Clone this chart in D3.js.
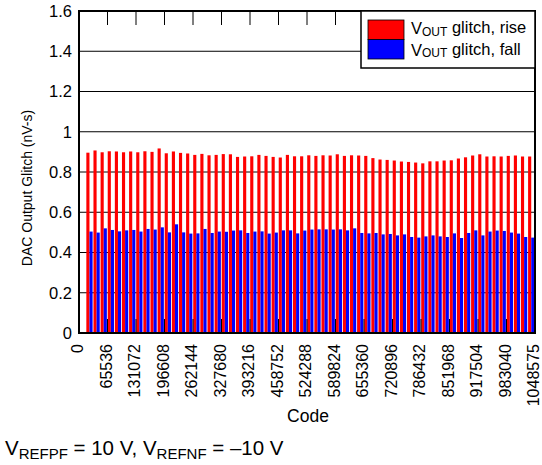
<!DOCTYPE html>
<html>
<head>
<meta charset="utf-8">
<script src="https://cdn.jsdelivr.net/npm/d3@7"></script>
<style>
  body { margin: 0; background: #fff; }
  svg { display: block; }
  text { font-family: "Liberation Sans", Arial, sans-serif; fill: #000; }
</style>
</head>
<body>
<svg id="chart" width="542" height="465"></svg>
<script>
// Glitch impulse measured at every 16384-code step of a 20-bit DAC
const codeStep = 16384;
const codes = d3.range(1, 64).map(k => k * codeStep);

const riseGlitch = [
  0.896, 0.907, 0.898, 0.903, 0.902, 0.898, 0.902, 0.898, 0.903, 0.900,
  0.917, 0.893, 0.902, 0.895, 0.892, 0.885, 0.890, 0.883, 0.885, 0.889,
  0.888, 0.875, 0.877, 0.878, 0.885, 0.880, 0.875, 0.872, 0.885, 0.878,
  0.878, 0.883, 0.880, 0.883, 0.882, 0.888, 0.880, 0.883, 0.882, 0.880,
  0.869, 0.862, 0.860, 0.857, 0.852, 0.850, 0.847, 0.843, 0.853, 0.853,
  0.857, 0.858, 0.867, 0.873, 0.882, 0.888, 0.877, 0.878, 0.877, 0.880,
  0.882, 0.877, 0.877
];

const fallGlitch = [
  0.504, 0.499, 0.520, 0.512, 0.505, 0.510, 0.512, 0.504, 0.517, 0.514,
  0.525, 0.500, 0.540, 0.500, 0.494, 0.495, 0.517, 0.497, 0.504, 0.503,
  0.509, 0.510, 0.497, 0.504, 0.505, 0.494, 0.499, 0.510, 0.510, 0.495,
  0.509, 0.514, 0.515, 0.515, 0.514, 0.515, 0.510, 0.520, 0.497, 0.495,
  0.497, 0.490, 0.492, 0.485, 0.490, 0.477, 0.474, 0.480, 0.485, 0.480,
  0.477, 0.495, 0.472, 0.497, 0.510, 0.485, 0.504, 0.509, 0.507, 0.499,
  0.494, 0.477, 0.474
];

const xTicks = [0, 65536, 131072, 196608, 262144, 327680, 393216, 458752,
  524288, 589824, 655360, 720896, 786432, 851968, 917504, 983040, 1048575];
const yTicks = [0, 0.2, 0.4, 0.6, 0.8, 1, 1.2, 1.4, 1.6];

const series = [
  { name: "rise", label: " glitch, rise", color: "#ff0000", values: riseGlitch },
  { name: "fall", label: " glitch, fall", color: "#0000ff", values: fallGlitch }
];

const svg = d3.select("#chart");
const plot = { left: 79, right: 535, top: 11, bottom: 333 };
const fontFamily = '"Liberation Sans", Arial, sans-serif';

const x = d3.scaleLinear().domain([0, 1048575]).range([plot.left, plot.right]);
const y = d3.scaleLinear().domain([0, 1.6]).range([plot.bottom, plot.top]);

// Horizontal grid lines
svg.append("g")
  .selectAll("line")
  .data(yTicks.filter(v => v > 0 && v < 1.6))
  .join("line")
  .attr("x1", plot.left).attr("x2", plot.right)
  .attr("y1", d => y(d)).attr("y2", d => y(d))
  .attr("stroke", "#000").attr("stroke-width", 1);

// Paired bars: rising step first, falling step right after it
const stepPx = x(codeStep) - x(0);
const barW = stepPx * 0.44;
const barsG = svg.append("g");
series.forEach((s, i) => {
  barsG.append("g")
    .selectAll("rect")
    .data(codes.map((c, j) => ({ code: c, v: s.values[j] })))
    .join("rect")
    .attr("x", d => x(d.code) + stepPx * 0.03 + i * barW)
    .attr("width", barW)
    .attr("y", d => y(d.v))
    .attr("height", d => y(0) - y(d.v))
    .attr("fill", s.color);
});

// Inward ticks on the top and bottom edges
const tickLen = 14;
const inner = xTicks.filter(v => v > 0 && v < 1048575);
svg.append("g").selectAll("line").data(inner).join("line")
  .attr("x1", d => x(d)).attr("x2", d => x(d))
  .attr("y1", plot.bottom).attr("y2", plot.bottom - tickLen)
  .attr("stroke", "#000").attr("stroke-width", 1);
svg.append("g").selectAll("line").data(inner).join("line")
  .attr("x1", d => x(d)).attr("x2", d => x(d))
  .attr("y1", plot.top).attr("y2", plot.top + tickLen)
  .attr("stroke", "#000").attr("stroke-width", 1);

// Frame
svg.append("rect")
  .attr("x", plot.left).attr("y", plot.top)
  .attr("width", plot.right - plot.left).attr("height", plot.bottom - plot.top)
  .attr("fill", "none").attr("stroke", "#000").attr("stroke-width", 2);

// Y axis labels
const yAxis = d3.axisLeft(y).tickValues(yTicks).tickSize(0).tickPadding(7)
  .tickFormat(d => d3.format("~g")(d));
svg.append("g")
  .attr("transform", `translate(${plot.left},0)`)
  .call(yAxis)
  .call(g => g.select(".domain").remove())
  .call(g => g.selectAll("text").style("font-size", "16.5px")
    .style("font-family", fontFamily));

// X axis labels, rotated
const xAxis = d3.axisBottom(x).tickValues(xTicks).tickSize(0).tickPadding(0)
  .tickFormat(d3.format("d"));
svg.append("g")
  .attr("transform", `translate(0,${plot.bottom})`)
  .call(xAxis)
  .call(g => g.select(".domain").remove())
  .call(g => g.selectAll("text")
    .attr("transform", "rotate(-90)")
    .attr("text-anchor", "end")
    .attr("x", -11).attr("y", -2).attr("dy", "0.35em")
    .style("font-size", "16px")
    .style("font-family", fontFamily));

// Axis titles
svg.append("text")
  .attr("transform", "translate(32,188) rotate(-90)")
  .attr("text-anchor", "middle")
  .style("font-size", "14px")
  .text("DAC Output Glitch (nV-s)");

svg.append("text")
  .attr("x", 308).attr("y", 422)
  .attr("text-anchor", "middle")
  .style("font-size", "17.5px")
  .text("Code");

// Legend
const lg = svg.append("g");
lg.append("rect")
  .attr("x", 361).attr("y", plot.top)
  .attr("width", plot.right - 361).attr("height", 57)
  .attr("fill", "#fff").attr("stroke", "#000").attr("stroke-width", 1.5);
series.forEach((s, i) => {
  lg.append("rect")
    .attr("x", 368).attr("y", 20 + i * 19.5)
    .attr("width", 36).attr("height", 19.5)
    .attr("fill", s.color).attr("stroke", "#000").attr("stroke-width", 0.8);
  const t = lg.append("text")
    .attr("x", 411).attr("y", 34 + i * 21.5)
    .style("font-size", "16.5px");
  t.append("tspan").text("V");
  t.append("tspan").attr("dy", "0.15em").style("font-size", "12px").text("OUT");
  t.append("tspan").attr("dy", "-0.15em").text(s.label);
});

// Reference voltage note
const note = svg.append("text").attr("x", 5).attr("y", 455).style("font-size", "20.5px");
note.append("tspan").text("V");
note.append("tspan").attr("dy", "4").style("font-size", "15px").text("REFPF");
note.append("tspan").attr("dy", "-4").text(" = 10 V, V");
note.append("tspan").attr("dy", "4").style("font-size", "15px").text("REFNF");
note.append("tspan").attr("dy", "-4").text(" = \u201310 V");
</script>
</body>
</html>
